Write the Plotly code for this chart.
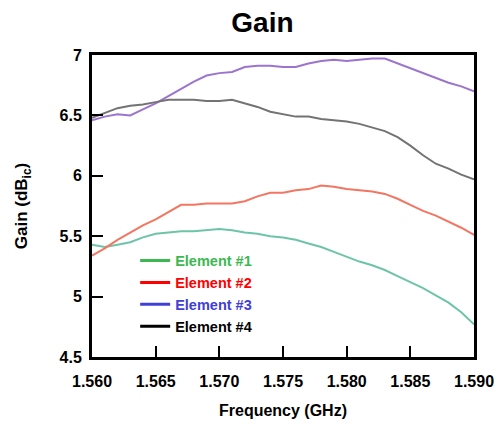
import plotly.graph_objects as go

freq = [1.560 + 0.001 * i for i in range(31)]

element1 = [5.43, 5.41, 5.43, 5.45, 5.49, 5.52, 5.53, 5.54, 5.54, 5.55, 5.56,
            5.55, 5.53, 5.52, 5.50, 5.49, 5.47, 5.44, 5.41, 5.37, 5.33,
            5.29, 5.26, 5.22, 5.17, 5.12, 5.07, 5.01, 4.95, 4.87, 4.77]
element2 = [5.34, 5.40, 5.47, 5.53, 5.59, 5.64, 5.70, 5.76, 5.76, 5.77, 5.77,
            5.77, 5.79, 5.83, 5.86, 5.86, 5.88, 5.89, 5.92, 5.91, 5.89,
            5.88, 5.87, 5.85, 5.81, 5.76, 5.71, 5.67, 5.62, 5.57, 5.51]
element3 = [6.46, 6.49, 6.51, 6.50, 6.55, 6.60, 6.66, 6.72, 6.78, 6.83, 6.85,
            6.86, 6.90, 6.91, 6.91, 6.90, 6.90, 6.93, 6.95, 6.96, 6.95,
            6.96, 6.97, 6.97, 6.93, 6.89, 6.85, 6.81, 6.77, 6.74, 6.70]
element4 = [6.48, 6.52, 6.56, 6.58, 6.59, 6.61, 6.63, 6.63, 6.63, 6.62, 6.62,
            6.63, 6.60, 6.57, 6.53, 6.51, 6.49, 6.49, 6.47, 6.46, 6.45,
            6.43, 6.40, 6.37, 6.32, 6.25, 6.17, 6.10, 6.06, 6.01, 5.97]

names = ["Element #1", "Element #2", "Element #3", "Element #4"]
series = [element1, element2, element3, element4]
line_colors = ["rgb(110,196,168)", "rgb(242,118,98)", "rgb(156,116,206)", "rgb(115,115,115)"]
legend_colors = ["rgb(60,184,80)", "rgb(255,0,0)", "rgb(64,64,214)", "rgb(0,0,0)"]

x_ticks = [1.560, 1.565, 1.570, 1.575, 1.580, 1.585, 1.590]
x_tick_text = ["1.560", "1.565", "1.570", "1.575", "1.580", "1.585", "1.590"]
y_ticks = [4.5, 5, 5.5, 6, 6.5, 7]
y_tick_text = ["4.5", "5", "5.5", "6", "6.5", "7"]

FONT = "Liberation Sans, Arial, sans-serif"

fig = go.Figure()
for ys, c in zip(series, line_colors):
    fig.add_trace(go.Scatter(x=freq, y=ys, mode="lines",
                             line=dict(color=c, width=2), showlegend=False,
                             hoverinfo="skip"))
for n, c in zip(names, legend_colors):
    fig.add_trace(go.Scatter(x=[None], y=[None], mode="lines",
                             line=dict(color=c, width=3),
                             name=f"<b><span style='color:{c}'>{n}</span></b>"))

fig.update_layout(
    width=498, height=425,
    margin=dict(l=92, r=24, t=55, b=68, autoexpand=False),
    paper_bgcolor="white", plot_bgcolor="white",
    font=dict(family=FONT, color="black"),
    title=dict(text="<b>Gain</b>", x=0.527, xanchor="center", y=0.948,
               yanchor="middle", font=dict(size=28, family=FONT, color="black")),
    legend=dict(x=0.113, y=0.372, xanchor="left", yanchor="top",
                bgcolor="rgba(0,0,0,0)", font=dict(size=14.5, family=FONT),
                tracegroupgap=0, itemwidth=30),
    xaxis=dict(range=[1.560, 1.590], tickvals=x_ticks,
               ticktext=[f"<b>{t}</b>" for t in x_tick_text],
               ticks="inside", ticklen=11, tickwidth=2, tickcolor="black",
               showline=True, linecolor="black", linewidth=3, mirror=True,
               showgrid=False, zeroline=False, automargin=False,
               ticklabelstandoff=8,
               tickfont=dict(size=16, family=FONT),
               title=dict(text="<b>Frequency (GHz)</b>", standoff=16,
                          font=dict(size=16, family=FONT))),
    yaxis=dict(range=[4.5, 7], tickvals=y_ticks,
               ticktext=[f"<b>{t}</b>" for t in y_tick_text],
               ticks="inside", ticklen=11, tickwidth=2, tickcolor="black",
               showline=True, linecolor="black", linewidth=3, mirror=True,
               showgrid=False, zeroline=False, automargin=False,
               ticklabelstandoff=4,
               tickfont=dict(size=16, family=FONT),
               title=dict(text="<b>Gain (dB<sub>ic</sub>)</b>", standoff=28,
                          font=dict(size=17, family=FONT))),
)

fig.write_html("out.html")
